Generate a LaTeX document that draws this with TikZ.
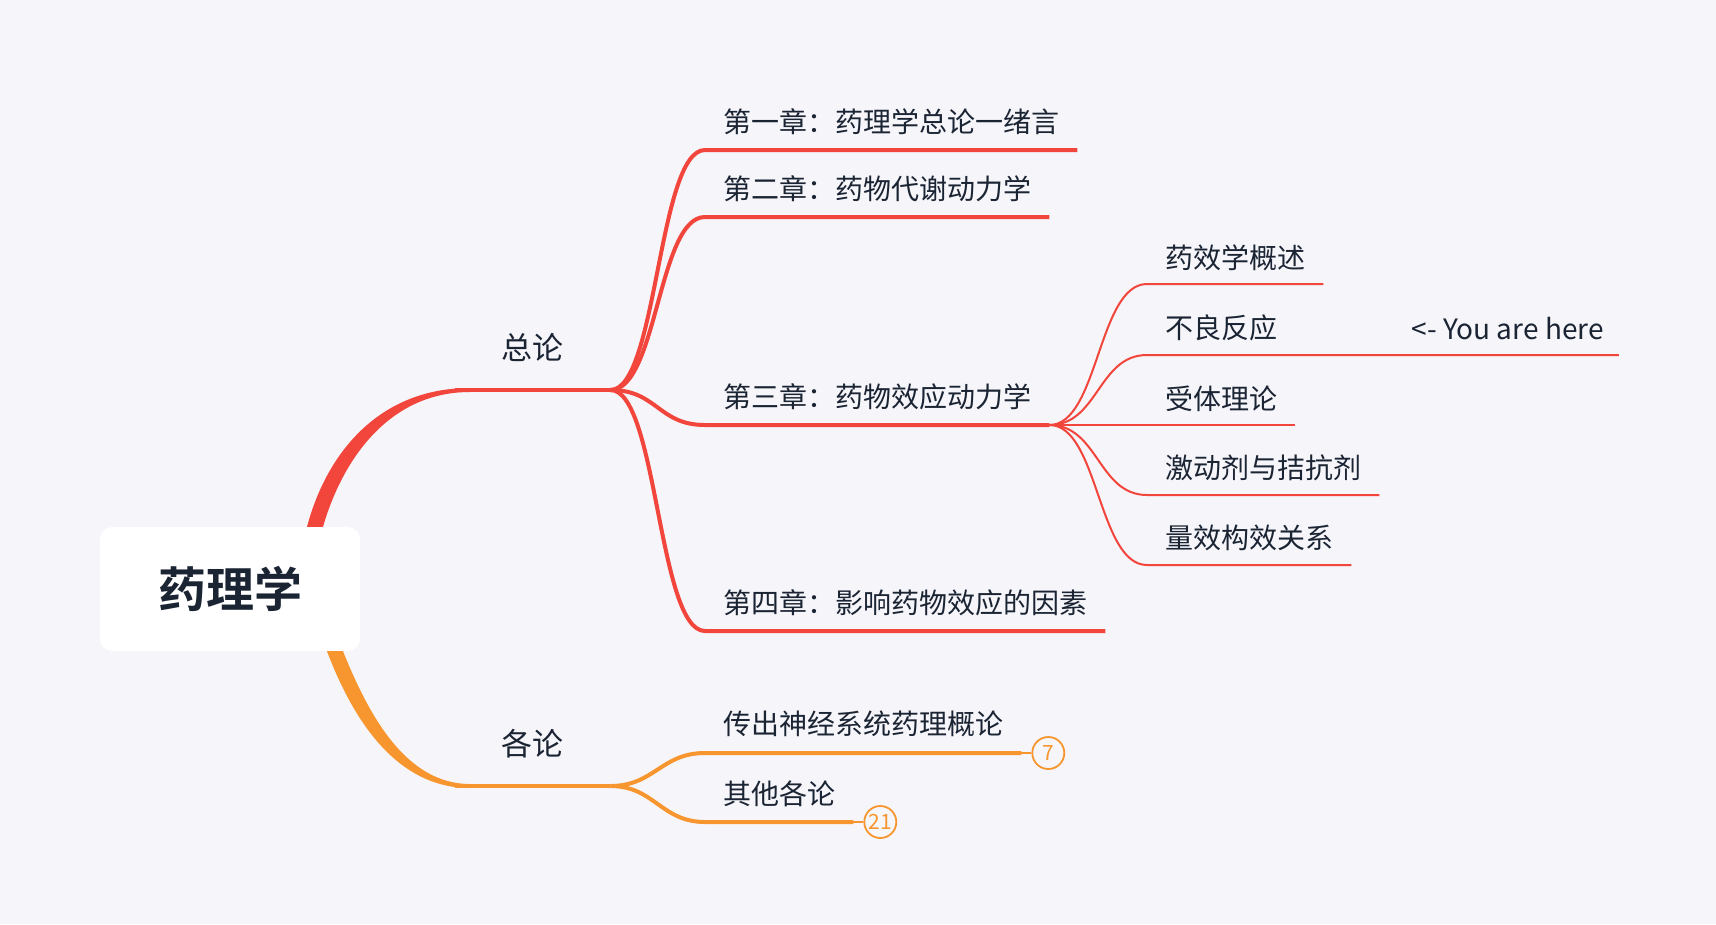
\documentclass[tikz,border=0pt]{standalone}
\usepackage{fontspec}
\setmainfont{Noto Sans CJK SC}[BoldFont={* Bold}]
\usetikzlibrary{positioning,calc}
\definecolor{mmred}{HTML}{F2453B}
\definecolor{mmorange}{HTML}{F7962F}
\definecolor{mmpaper}{HTML}{F5F5FA}
\definecolor{mmink}{HTML}{1B2433}
\newcommand{\fsz}[1]{\fontsize{#1}{#1}\selectfont}

\begin{document}
\begin{tikzpicture}[
  x=1pt, y=-1pt,
  rootbox/.style={fill=white, rounded corners=12pt, minimum width=260pt,
                  minimum height=124pt, font=\fsz{48}\bfseries, text=mmink},
  topic/.style={anchor=south west, inner sep=0pt, minimum width=155pt,
                minimum height=84pt, font=\fsz{31}, text=mmink},
  chap/.style={anchor=south west, inner xsep=18pt, inner ysep=0pt,
               minimum height=57pt, font=\fsz{28}, text=mmink},
  sect/.style={anchor=south west, inner xsep=18pt, inner ysep=0pt,
               minimum height=53pt, font=\fsz{28}, text=mmink},
  count/.style={circle, draw=mmorange, line width=1.8pt, fill=mmpaper,
                minimum size=32pt, inner sep=0pt, font=\fsz{21}, text=mmorange},
  chapline/.style={line width=4pt},
  sectline/.style={line width=2pt},
]

%% paper
\fill[mmpaper] (0,0) rectangle (1716,924);
\useasboundingbox (0,0) rectangle (1716,924);

%% Root
\node[rootbox] (root) at (230,589) {药理学};

%% Main topics
\node[topic] (zong)  at (455,390) {总论};
\node[topic] (gelun) at (455,786) {各论};

%% Chapters of 总论
\node[chap] (c1) at (705,150) {第一章：药理学总论一绪言};
\node[chap] (c2) at (705,217) {第二章：药物代谢动力学};
\node[chap] (c3) at (705,425) {第三章：药物效应动力学};
\node[chap] (c4) at (705,631) {第四章：影响药物效应的因素};

%% Sections of 第三章
\node[sect] (s1) at (1147,284) {药效学概述};
\node[sect] (s2) at (1147,355) {不良反应};
\node[sect] (s3) at (1147,425) {受体理论};
\node[sect] (s4) at (1147,495) {激动剂与拮抗剂};
\node[sect] (s5) at (1147,565) {量效构效关系};
\node[sect, inner xsep=15pt, right=101pt of s2.south east, anchor=south west] (here) {<- You are here};

%% Chapters of 各论
\node[chap] (g1) at (705,753) {传出神经系统药理概论};
\node[chap] (g2) at (705,822) {其他各论};
\node[count, right=10pt of g1.south east] (n7)  {7};
\node[count, right=10pt of g2.south east] (n21) {21};

%% Tapered branches out of the root
\fill[mmred] ($(root.north)+(77,0)$) .. controls +(20,-75) and +(-90,0) .. ($(zong.south west)+(15,-2)$)
  -- ($(zong.south west)+(15,2)$) .. controls +(-80,0) and +(20,-69) .. ($(root.north)+(93,0)$) -- cycle;
\fill[mmorange] ($(root.south)+(97,0)$) .. controls +(25,66) and +(-75,0) .. ($(gelun.south west)+(15,2)$)
  -- ($(gelun.south west)+(15,-2)$) .. controls +(-65,0) and +(25,62) .. ($(root.south)+(113,0)$) -- cycle;

%% Red connectors
\draw[mmred, chapline] (zong.south west) -- (zong.south east);
\foreach \c in {c1,c2,c3,c4}
  \draw[mmred, chapline] (zong.south east) .. controls +(47,0) and +(-47,0) .. (\c.south west) -- (\c.south east);
\foreach \s in {s1,s3,s4,s5}
  \draw[mmred, sectline] (c3.south east) .. controls +(49,0) and +(-49,0) .. (\s.south west) -- (\s.south east);
\draw[mmred, sectline] (c3.south east) .. controls +(49,0) and +(-49,0) .. (s2.south west) -- (here.south east);

%% Orange connectors
\draw[mmorange, chapline] (gelun.south west) -- (gelun.south east);
\foreach \g in {g1,g2}
  \draw[mmorange, chapline] (gelun.south east) .. controls +(44,0) and +(-44,0) .. (\g.south west) -- (\g.south east);
\draw[mmorange, sectline] (g1.south east) -- (n7.west);
\draw[mmorange, sectline] (g2.south east) -- (n21.west);

\end{tikzpicture}
\end{document}
